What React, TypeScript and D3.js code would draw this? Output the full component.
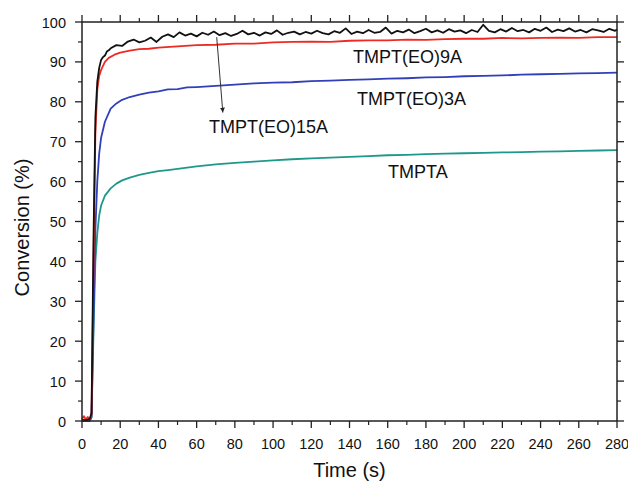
import React from 'react';
import * as d3 from 'd3';

// Photo-DSC conversion vs. time for four acrylate monomers
const xTicks = [0, 20, 40, 60, 80, 100, 120, 140, 160, 180, 200, 220, 240, 260, 280];
const yTicks = [0, 10, 20, 30, 40, 50, 60, 70, 80, 90, 100];

const tmptEo15a: [number, number][] = [
  [0, 0.3], [2, 0.2], [4, 0.5], [5, 2], [6, 45], [7, 76], [8, 85], [9, 88.5], [10, 90.5],
  [11, 91.2], [12, 91.6], [13, 92.6], [14, 92.9], [15, 93.4], [18, 94.2], [21, 94.0],
  [24, 95.1], [27, 95.6], [30, 94.9], [33, 95.3], [36, 96.1], [39, 95.0], [42, 96.3],
  [45, 96.9], [48, 96.2], [51, 97.4], [54, 96.6], [57, 97.1], [60, 96.4], [63, 97.3],
  [66, 96.8], [69, 97.6], [72, 96.7], [75, 97.2], [78, 96.5], [81, 97.0], [84, 97.8],
  [87, 96.9], [90, 97.3], [93, 96.6], [96, 97.4], [99, 97.0], [102, 97.9], [105, 96.8],
  [108, 97.3], [111, 97.6], [114, 96.9], [117, 97.5], [120, 97.1], [123, 97.8], [126, 97.2],
  [129, 96.9], [132, 97.7], [135, 97.3], [138, 98.4], [141, 97.0], [144, 97.6], [147, 97.2],
  [150, 98.0], [153, 97.3], [156, 97.5], [159, 98.6], [162, 97.1], [165, 97.8], [168, 97.4],
  [171, 98.1], [174, 97.2], [177, 97.7], [180, 98.3], [183, 97.4], [186, 97.9], [189, 97.3],
  [192, 98.2], [195, 97.6], [198, 97.9], [201, 97.2], [204, 98.0], [207, 97.5], [210, 99.3],
  [213, 97.8], [216, 97.4], [219, 98.2], [222, 97.6], [225, 98.5], [228, 97.7], [231, 98.0],
  [234, 97.4], [237, 98.3], [240, 97.8], [243, 98.6], [246, 97.5], [249, 98.1], [252, 97.7],
  [255, 98.4], [258, 97.6], [261, 98.0], [264, 97.4], [267, 98.2], [270, 97.9], [273, 97.5],
  [276, 98.3], [279, 97.8], [280, 98.1],
];

const tmptEo9a: [number, number][] = [
  [0, 0.5], [1, 1.2], [2, 0.4], [3, 1.0], [4, 0.3], [5, 1.5], [6, 38], [7, 72], [8, 83],
  [9, 86.5], [10, 88], [12, 90], [14, 91], [17, 91.8], [20, 92.3], [25, 92.8], [30, 93.2],
  [35, 93.3], [40, 93.6], [50, 93.9], [60, 94.2], [70, 94.3], [80, 94.6], [90, 94.6],
  [100, 94.9], [110, 95.0], [120, 95.1], [130, 95.0], [140, 95.3], [150, 95.4], [160, 95.4],
  [170, 95.6], [180, 95.5], [190, 95.7], [200, 95.8], [210, 95.8], [220, 96.0], [230, 95.9],
  [240, 96.0], [250, 96.1], [260, 96.0], [270, 96.2], [280, 96.2],
];

const tmptEo3a: [number, number][] = [
  [0, 0], [4, 0], [5, 1], [6, 25], [7, 48], [8, 60], [9, 67], [10, 71], [12, 75],
  [15, 78.3], [18, 79.6], [21, 80.5], [25, 81.2], [30, 81.8], [35, 82.3], [40, 82.6],
  [45, 83.1], [50, 83.2], [55, 83.6], [60, 83.7], [70, 84.0], [80, 84.3], [90, 84.6],
  [100, 84.8], [110, 84.9], [120, 85.2], [130, 85.3], [140, 85.5], [150, 85.6], [160, 85.8],
  [170, 85.9], [180, 86.1], [190, 86.2], [200, 86.4], [210, 86.5], [220, 86.6], [230, 86.8],
  [240, 86.9], [250, 87.0], [260, 87.1], [270, 87.2], [280, 87.3],
];

const tmpta: [number, number][] = [
  [0, 0], [4, 0], [5, 1], [6, 22], [7, 40], [8, 47], [9, 51.5], [10, 54], [12, 56.5],
  [15, 58.3], [18, 59.5], [21, 60.3], [25, 61.0], [30, 61.7], [35, 62.2], [40, 62.6],
  [45, 62.9], [50, 63.2], [60, 63.8], [70, 64.3], [80, 64.7], [90, 65.0], [100, 65.3],
  [110, 65.6], [120, 65.8], [130, 66.0], [140, 66.2], [150, 66.4], [160, 66.6], [170, 66.7],
  [180, 66.9], [190, 67.0], [200, 67.1], [210, 67.2], [220, 67.3], [230, 67.4], [240, 67.5],
  [250, 67.6], [260, 67.7], [270, 67.8], [280, 67.9],
];

const seriesNames = ['TMPT(EO)15A', 'TMPT(EO)9A', 'TMPT(EO)3A', 'TMPTA'];
const seriesColors = ['#111111', '#ee2b22', '#3140b8', '#1f988c'];
const seriesData = [tmptEo15a, tmptEo9a, tmptEo3a, tmpta];

const W = 628;
const H = 484;
const left = 82;
const right = 617;
const top = 22;
const bottom = 421;

export default function App() {
  const x = d3.scaleLinear().domain([0, 280]).range([left, right]);
  const y = d3.scaleLinear().domain([0, 100]).range([bottom, top]);
  const line = d3
    .line<[number, number]>()
    .x((d) => x(d[0]))
    .y((d) => y(d[1]));

  const xMinor = d3.range(10, 280, 20);
  const yMinor = d3.range(5, 100, 10);
  const font = 'Liberation Sans, Arial, Helvetica, sans-serif';
  const axisColor = '#222';

  return (
    <svg
      width={W}
      height={H}
      style={{ position: 'absolute', left: 0, top: 0, background: '#fff' }}
      fontFamily={font}
    >
      <defs>
        <marker id="arrowHead" viewBox="0 0 10 10" refX="10" refY="5" markerWidth="5" markerHeight="8" orient="auto" markerUnits="userSpaceOnUse">
          <path d="M0,0 L10,5 L0,10 Z" fill="#222" />
        </marker>
      </defs>

      {/* curves */}
      {seriesData
        .map((data, i) => (
          <path
            key={seriesNames[i]}
            d={line(data) ?? ''}
            fill="none"
            stroke={seriesColors[i]}
            strokeWidth={1.8}
            strokeLinejoin="round"
          />
        ))
        .reverse()}

      {/* frame */}
      <rect x={left} y={top} width={right - left} height={bottom - top} fill="none" stroke={axisColor} strokeWidth={1.5} />

      {/* x ticks: bottom and top, outward */}
      {xTicks.map((t) => (
        <g key={'xt' + t}>
          <line x1={x(t)} x2={x(t)} y1={bottom} y2={bottom + 7} stroke={axisColor} strokeWidth={1.3} />
          <line x1={x(t)} x2={x(t)} y1={top} y2={top - 7} stroke={axisColor} strokeWidth={1.3} />
          <text x={x(t)} y={bottom + 28} textAnchor="middle" fontSize={14.5} fill="#111">
            {t}
          </text>
        </g>
      ))}
      {xMinor.map((t) => (
        <g key={'xm' + t}>
          <line x1={x(t)} x2={x(t)} y1={bottom} y2={bottom + 4} stroke={axisColor} strokeWidth={1.2} />
          <line x1={x(t)} x2={x(t)} y1={top} y2={top - 4} stroke={axisColor} strokeWidth={1.2} />
        </g>
      ))}

      {/* y ticks: left and right, outward */}
      {yTicks.map((t) => (
        <g key={'yt' + t}>
          <line x1={left} x2={left - 7} y1={y(t)} y2={y(t)} stroke={axisColor} strokeWidth={1.3} />
          <line x1={right} x2={right + 7} y1={y(t)} y2={y(t)} stroke={axisColor} strokeWidth={1.3} />
          <text x={left - 16} y={y(t) + 5.5} textAnchor="end" fontSize={14.5} fill="#111">
            {t}
          </text>
        </g>
      ))}
      {yMinor.map((t) => (
        <g key={'ym' + t}>
          <line x1={left} x2={left - 4} y1={y(t)} y2={y(t)} stroke={axisColor} strokeWidth={1.2} />
          <line x1={right} x2={right + 4} y1={y(t)} y2={y(t)} stroke={axisColor} strokeWidth={1.2} />
        </g>
      ))}

      {/* axis titles */}
      <text x={(left + right) / 2} y={477} textAnchor="middle" fontSize={20} fill="#111">
        Time (s)
      </text>
      <text
        transform={`translate(29, ${(top + bottom) / 2 + 6}) rotate(-90)`}
        textAnchor="middle"
        fontSize={20}
        fill="#111"
      >
        Conversion (%)
      </text>

      {/* series labels */}
      <text x={353} y={63} fontSize={18} fill="#111">{seriesNames[1]}</text>
      <text x={357} y={105} fontSize={18} fill="#111">{seriesNames[2]}</text>
      <text x={209} y={133} fontSize={18} fill="#111">{seriesNames[0]}</text>
      <text x={388} y={178} fontSize={18} fill="#111">{seriesNames[3]}</text>

      {/* pointer from the TMPT(EO)15A curve to its label */}
      <line x1={x(70.5)} y1={y(96.2)} x2={x(73.7)} y2={y(77.3)} stroke="#333" strokeWidth={1} markerEnd="url(#arrowHead)" />
    </svg>
  );
}
